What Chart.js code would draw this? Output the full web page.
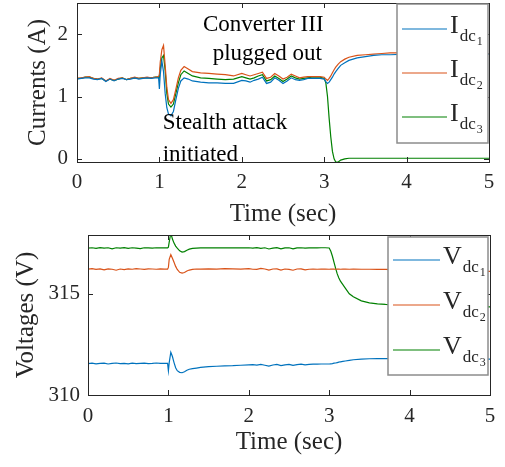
<!DOCTYPE html>
<html>
<head>
<meta charset="utf-8">
<script src="https://cdn.jsdelivr.net/npm/chart.js@4.4.0/dist/chart.umd.min.js"></script>
<style>
  body { margin: 0; background: #fff; }
  #wrap { position: relative; width: 505px; height: 467px; }
  canvas { position: absolute; left: 0; }
  #currents { top: 0; }
  #voltages { top: 225px; }
</style>
</head>
<body>
<div id="wrap">
  <canvas id="currents" width="505" height="232"></canvas>
  <canvas id="voltages" width="505" height="242"></canvas>
</div>
<script>
// time axis (sec), shared by both plots
const time = [
  0, 0.05, 0.1, 0.15, 0.2, 0.25, 0.3, 0.35, 0.4, 0.45,
  0.5, 0.55, 0.6, 0.65, 0.7, 0.75, 0.8, 0.85, 0.9, 0.95,
  0.99, 1.0, 1.01, 1.03, 1.05, 1.07, 1.09, 1.11, 1.14, 1.17,
  1.2, 1.23, 1.26, 1.3, 1.35, 1.4, 1.5, 1.6, 1.7, 1.8,
  1.9, 2.0, 2.05, 2.1, 2.15, 2.2, 2.25, 2.3, 2.35, 2.4,
  2.45, 2.5, 2.55, 2.6, 2.65, 2.7, 2.75, 2.8, 2.85, 2.9,
  2.95, 3.0, 3.02, 3.04, 3.06, 3.08, 3.1, 3.12, 3.14, 3.17,
  3.2, 3.25, 3.3, 3.4, 3.5, 3.6, 3.7, 3.8, 4.0, 4.2,
  4.4, 4.6, 4.8, 5.0
];

// currents (A)
const idc1 = [
  1.28, 1.29, 1.30, 1.30, 1.28, 1.27, 1.29, 1.24, 1.28, 1.25,
  1.28, 1.29, 1.27, 1.28, 1.30, 1.28, 1.29, 1.30, 1.29, 1.30,
  1.30, 1.12, 1.35, 1.57, 1.40, 1.05, 0.82, 0.72, 0.69, 0.76,
  0.95, 1.13, 1.25, 1.30, 1.28, 1.25, 1.23, 1.22, 1.22, 1.21,
  1.21, 1.26, 1.25, 1.23, 1.26, 1.28, 1.31, 1.21, 1.23, 1.30,
  1.26, 1.21, 1.25, 1.30, 1.27, 1.26, 1.27, 1.29, 1.29, 1.29,
  1.29, 1.28, 1.24, 1.21, 1.23, 1.27, 1.31, 1.36, 1.40, 1.45,
  1.50, 1.54, 1.58, 1.62, 1.64, 1.66, 1.67, 1.67, 1.68, 1.68,
  1.68, 1.68, 1.68, 1.68
];
const idc2 = [
  1.29, 1.30, 1.31, 1.32, 1.29, 1.28, 1.30, 1.25, 1.29, 1.26,
  1.29, 1.30, 1.27, 1.29, 1.31, 1.29, 1.30, 1.31, 1.30, 1.31,
  1.32, 1.36, 1.55, 1.75, 1.82, 1.50, 1.15, 0.95, 0.89, 0.95,
  1.12, 1.30, 1.42, 1.48, 1.44, 1.40, 1.38, 1.37, 1.36, 1.35,
  1.33, 1.37, 1.35, 1.33, 1.35, 1.37, 1.39, 1.29, 1.31, 1.37,
  1.33, 1.28, 1.31, 1.36, 1.33, 1.30, 1.31, 1.32, 1.32, 1.32,
  1.32, 1.31, 1.28, 1.26, 1.29, 1.33, 1.38, 1.43, 1.47, 1.52,
  1.56, 1.60, 1.63, 1.66, 1.67, 1.68, 1.69, 1.70, 1.70, 1.70,
  1.70, 1.70, 1.69, 1.69
];
const idc3 = [
  1.29, 1.29, 1.31, 1.31, 1.29, 1.28, 1.29, 1.25, 1.28, 1.26,
  1.28, 1.30, 1.27, 1.29, 1.30, 1.29, 1.30, 1.30, 1.30, 1.31,
  1.31, 1.30, 1.45, 1.62, 1.66, 1.42, 1.05, 0.88, 0.83, 0.88,
  1.05, 1.22, 1.35, 1.41, 1.37, 1.33, 1.30, 1.29, 1.28, 1.27,
  1.28, 1.32, 1.30, 1.28, 1.30, 1.33, 1.35, 1.25, 1.27, 1.33,
  1.29, 1.24, 1.28, 1.33, 1.30, 1.28, 1.29, 1.30, 1.31, 1.31,
  1.31, 1.29, 1.22, 1.00, 0.65, 0.35, 0.12, 0.00, -0.05, -0.05,
  -0.02, 0.00, 0.01, 0.01, 0.01, 0.01, 0.01, 0.01, 0.01, 0.01,
  0.01, 0.01, 0.01, 0.01
];

// voltages (V)
const vdc1 = [
  311.55, 311.57, 311.54, 311.56, 311.57, 311.53, 311.56, 311.58, 311.55, 311.56,
  311.54, 311.57, 311.55, 311.56, 311.57, 311.55, 311.56, 311.58, 311.56, 311.56,
  311.56, 311.20, 311.60, 312.11, 311.90, 311.60, 311.35, 311.20, 311.12, 311.10,
  311.15, 311.22, 311.27, 311.30, 311.33, 311.36, 311.40, 311.42, 311.44, 311.45,
  311.47, 311.49, 311.50, 311.48, 311.51, 311.47, 311.43, 311.48, 311.51, 311.45,
  311.49, 311.51, 311.46, 311.50, 311.52, 311.49, 311.51, 311.52, 311.52, 311.53,
  311.53, 311.53, 311.54, 311.55, 311.57, 311.58, 311.60, 311.62, 311.64, 311.66,
  311.68, 311.71, 311.74, 311.77, 311.79, 311.80, 311.80, 311.80, 311.80, 311.79,
  311.79, 311.78, 311.78, 311.77
];
const vdc2 = [
  316.21, 316.24, 316.20, 316.23, 316.18, 316.23, 316.21, 316.16, 316.22, 316.19,
  316.23, 316.21, 316.24, 316.22, 316.20, 316.23, 316.22, 316.21, 316.23, 316.22,
  316.22, 316.30, 316.70, 316.93, 316.75, 316.55, 316.35, 316.20, 316.06, 316.02,
  316.05, 316.12, 316.17, 316.20, 316.22, 316.22, 316.23, 316.22, 316.24, 316.23,
  316.22, 316.24, 316.21, 316.20, 316.25, 316.22, 316.17, 316.22, 316.23, 316.17,
  316.22, 316.20, 316.16, 316.22, 316.23, 316.18, 316.21, 316.22, 316.21, 316.22,
  316.22, 316.21, 316.22, 316.22, 316.22, 316.21, 316.22, 316.22, 316.21, 316.22,
  316.22, 316.21, 316.22, 316.21, 316.21, 316.20, 316.20, 316.19, 316.18, 316.16,
  316.15, 316.13, 316.12, 316.10
];
const vdc3 = [
  317.25, 317.27, 317.24, 317.28, 317.25, 317.27, 317.22, 317.27, 317.25, 317.28,
  317.24, 317.27, 317.25, 317.23, 317.27, 317.26, 317.25, 317.27, 317.26, 317.26,
  317.26, 317.30, 317.55, 318.00, 317.70, 317.50, 317.35, 317.25, 317.12, 317.06,
  317.08, 317.15, 317.20, 317.24, 317.25, 317.26, 317.26, 317.27, 317.26, 317.27,
  317.26, 317.27, 317.25, 317.28, 317.24, 317.27, 317.21, 317.25, 317.28, 317.22,
  317.26, 317.27, 317.22, 317.26, 317.27, 317.25, 317.26, 317.27, 317.26, 317.27,
  317.27, 317.26, 317.10, 316.85, 316.55, 316.25, 315.98, 315.78, 315.62, 315.45,
  315.28, 315.00, 314.85, 314.65, 314.55, 314.50, 314.47, 314.45, 314.42, 314.40,
  314.38, 314.37, 314.36, 314.35
];

const currentNames = ['Idc1', 'Idc2', 'Idc3'];
const voltageNames = ['Vdc1', 'Vdc2', 'Vdc3'];
const timeTicks = [0, 1, 2, 3, 4, 5];
const currentTicks = [0, 1, 2];
const voltageTicks = [310, 315];

const colors = ['#0072BD', '#D95319', '#008000'];
const axisColor = '#262626';
const serif = '"Liberation Serif", "DejaVu Serif", serif';

// box, inward ticks on all sides, legend with subscripts, text notes
const matlabAxes = {
  id: 'matlabAxes',
  afterDatasetsDraw(chart) {
    const { ctx, chartArea: a, scales: { x, y } } = chart;
    ctx.save();
    ctx.strokeStyle = axisColor;
    ctx.lineWidth = 1;
    ctx.beginPath();
    x.ticks.forEach(t => {
      const px = Math.round(x.getPixelForValue(t.value)) + 0.5;
      ctx.moveTo(px, a.bottom); ctx.lineTo(px, a.bottom - 5);
      ctx.moveTo(px, a.top); ctx.lineTo(px, a.top + 5);
    });
    y.ticks.forEach(t => {
      const py = Math.round(y.getPixelForValue(t.value)) + 0.5;
      ctx.moveTo(a.left, py); ctx.lineTo(a.left + 5, py);
      ctx.moveTo(a.right, py); ctx.lineTo(a.right - 5, py);
    });
    ctx.stroke();
    ctx.strokeRect(Math.round(a.left) + 0.5, Math.round(a.top) + 0.5,
      Math.round(a.width), Math.round(a.height));
    ctx.restore();
  },
  afterDraw(chart, args, opts) {
    const { ctx, scales: { x, y } } = chart;
    ctx.save();
    // notes
    (opts.notes || []).forEach(n => {
      ctx.font = '23px ' + serif;
      ctx.fillStyle = '#000';
      ctx.textAlign = n.align;
      ctx.textBaseline = 'middle';
      ctx.fillText(n.text, x.getPixelForValue(n.t), y.getPixelForValue(n.v));
    });
    // legend
    const lg = opts.legend;
    if (lg) {
      ctx.fillStyle = '#fff';
      ctx.fillRect(lg.left, lg.top, lg.width, lg.height);
      ctx.strokeStyle = '#8c8c8c';
      ctx.lineWidth = 1.5;
      ctx.strokeRect(lg.left, lg.top, lg.width, lg.height);
      ctx.textAlign = 'left';
      ctx.textBaseline = 'alphabetic';
      chart.data.datasets.forEach((ds, i) => {
        const ry = lg.rowY + i * lg.rowStep;
        ctx.strokeStyle = ds.borderColor;
        ctx.lineWidth = 1.2;
        ctx.beginPath();
        ctx.moveTo(lg.lineX0, ry);
        ctx.lineTo(lg.lineX1, ry);
        ctx.stroke();
        const name = ds.label;
        const main = name[0], sub = name.slice(1, -1), idx = name.slice(-1);
        ctx.fillStyle = axisColor;
        let tx = lg.textX;
        ctx.font = '26px ' + serif;
        ctx.fillText(main, tx, ry + 4);
        tx += ctx.measureText(main).width + 1;
        ctx.font = '17px ' + serif;
        ctx.fillText(sub, tx, ry + 12);
        tx += ctx.measureText(sub).width + 1;
        ctx.font = '12px ' + serif;
        ctx.fillText(idx, tx, ry + 16);
      });
    }
    ctx.restore();
  }
};

function makeDatasets(series, names) {
  return series.map((vals, i) => ({
    label: names[i],
    data: time.map((t, k) => ({ x: t, y: vals[k] })),
    borderColor: colors[i],
    borderWidth: 1.2,
    pointRadius: 0,
    tension: 0,
    fill: false
  }));
}

function makeOptions(cfg) {
  return {
    responsive: false,
    animation: false,
    layout: { autoPadding: false, padding: { top: cfg.padTop, right: cfg.padRight, left: 0, bottom: 0 } },
    plugins: {
      legend: { display: false },
      tooltip: { enabled: false },
      matlabAxes: { legend: cfg.legend, notes: cfg.notes }
    },
    scales: {
      x: {
        type: 'linear',
        min: 0, max: 5,
        afterBuildTicks: s => { s.ticks = timeTicks.map(v => ({ value: v })); },
        afterFit: s => { s.height = cfg.xHeight; s.paddingLeft = 0; s.paddingRight = 0; },
        grid: { display: false, drawTicks: false },
        border: { display: false },
        ticks: { color: axisColor, font: { family: serif, size: cfg.tickSize }, padding: cfg.xTickPad, maxRotation: 0 },
        title: { display: true, text: 'Time (sec)', color: axisColor,
          font: { family: serif, size: 25 }, padding: { top: 0, bottom: cfg.xTitlePad } }
      },
      y: {
        min: cfg.yMin, max: cfg.yMax,
        afterBuildTicks: s => { s.ticks = cfg.yTicks.map(v => ({ value: v })); },
        afterFit: s => { s.width = cfg.yWidth; s.paddingTop = 0; s.paddingBottom = 0; },
        grid: { display: false, drawTicks: false },
        border: { display: false },
        ticks: { color: axisColor, font: { family: serif, size: cfg.tickSize }, padding: cfg.yTickPad },
        title: { display: true, text: cfg.yTitle, color: axisColor,
          font: { family: serif, size: 25 }, padding: { top: cfg.yTitlePad, bottom: 0 } }
      }
    }
  };
}

new Chart(document.getElementById('currents'), {
  type: 'line',
  data: { datasets: makeDatasets([idc1, idc2, idc3], currentNames) },
  options: makeOptions({
    padTop: 3, padRight: 16, xHeight: 70, yWidth: 77,
    yMin: -0.05, yMax: 2.5, yTicks: currentTicks, yTitle: 'Currents (A)',
    tickSize: 21, xTickPad: 8, xTitlePad: 3, yTickPad: 9, yTitlePad: 23,
    legend: { left: 397, top: 4, width: 91, height: 139,
      lineX0: 402, lineX1: 447, rowY: 29, rowStep: 44, textX: 450 },
    notes: [
      { text: 'Converter III', t: 2.26, v: 2.15, align: 'center' },
      { text: 'plugged out', t: 2.31, v: 1.68, align: 'center' },
      { text: 'Stealth attack', t: 1.04, v: 0.57, align: 'left' },
      { text: 'initiated', t: 1.04, v: 0.07, align: 'left' }
    ]
  }),
  plugins: [matlabAxes]
});

new Chart(document.getElementById('voltages'), {
  type: 'line',
  data: { datasets: makeDatasets([vdc1, vdc2, vdc3], voltageNames) },
  options: makeOptions({
    padTop: 10, padRight: 15, xHeight: 72, yWidth: 88,
    yMin: 310, yMax: 317.9, yTicks: voltageTicks, yTitle: 'Voltages (V)',
    tickSize: 21, xTickPad: 9, xTitlePad: 10, yTickPad: 8, yTitlePad: 11,
    legend: { left: 388, top: 12, width: 100, height: 138,
      lineX0: 393, lineX1: 440, rowY: 35, rowStep: 45, textX: 443 }
  }),
  plugins: [matlabAxes]
});
</script>
</body>
</html>
